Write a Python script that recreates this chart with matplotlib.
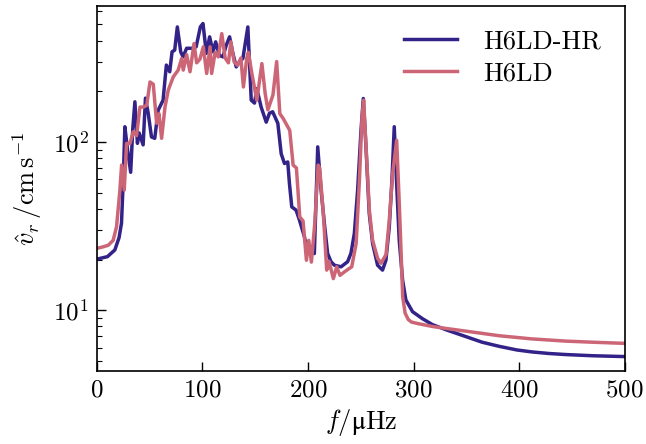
import matplotlib
matplotlib.use("Agg")
import matplotlib.pyplot as plt
import numpy as np

plt.rcParams['font.family'] = ['cmr10', 'DejaVu Serif']
plt.rcParams['mathtext.fontset'] = 'cm'
plt.rcParams['axes.formatter.use_mathtext'] = True
plt.rcParams['axes.unicode_minus'] = False

# H6LD-HR (blue)
f_hr = [0, 10, 17, 21, 23.3, 25, 26.5, 29, 32, 34, 36, 38.4, 40, 43.8, 46, 48.6,
        51.7, 54.8, 58, 62.7, 65.8, 69, 71.2, 73.7, 76.2, 79.4, 81.6, 85, 91, 94,
        98, 100.5, 103.7, 106.8, 110, 112.5, 116, 119.4, 122.6, 125.7, 128.8,
        132, 135, 138.3, 143, 146.2, 149.3, 151.5, 155.6, 160.4, 163.5, 166.5,
        171.4, 174.6, 177.7, 180.8, 182.4, 184.6, 188.7, 191.9, 196.6, 199.7,
        202.9, 206, 209.2, 212.4, 215.5, 218.6, 221.8, 225, 231.3, 237.5, 240.7,
        243.9, 247, 250.2, 252.4, 254.9, 258, 261.2, 265.9, 270.6, 273.8, 277,
        279.5, 281.7, 283.8, 286.4, 289.6, 292.7, 299, 308.4, 318, 332, 350,
        365, 381, 398, 412, 428, 444, 470, 500]
v_hr = [20.1, 20.8, 22.8, 27, 32.9, 60, 123, 90, 66, 120, 173, 98, 113, 96, 182, 148,
        107, 105, 154, 177, 286, 261, 343, 351, 482, 343, 320, 360, 360, 367,
        482, 505, 336, 421, 343, 393, 327, 320, 376, 421, 336,
        279, 299, 313, 482, 177, 170, 207, 161, 131, 148, 151,
        129, 85, 74.4, 76, 56.6, 41.1, 39.3, 34.3, 27.3, 21.7,
        23.8, 21.7, 93.4, 51.6, 32.7, 21.7, 19.4, 18.5, 18.1, 19.4, 21.8,
        28.6, 51.6, 117, 181, 93.4, 37.6, 24.9, 18.5, 17.3, 19.8, 31.3,
        59.2, 123, 59.2, 26.1, 15.1, 11.5, 9.8, 8.9, 8.2, 7.6, 6.95,
        6.45, 6.1, 5.8, 5.65, 5.53, 5.45, 5.36, 5.3]

# H6LD (pink)
f_ld = [0, 6, 10.7, 15.4, 18.6, 21.8, 23.4, 25.9, 28.1, 31.3, 34.5, 37.6, 40.8, 44,
        47.2, 50.3, 53.4, 56.6, 58.8, 61.3, 64.5, 67.6, 72.3, 77, 80.3, 81.8, 85,
        88.2, 92, 94.5, 97.6, 100.8, 104, 107.2, 108.7, 112, 115, 118.3, 121.5,
        124.6, 126.9, 130, 133.2, 136.4, 138.8, 142, 143.5, 146.8, 151.5, 156.3,
        159.4, 162, 166.8, 170.3, 173.3, 176.4, 182.7, 185.9, 189, 192.2, 195.3,
        198.5, 200.7, 203.2, 206.4, 209.6, 211, 214.5, 217.7, 219.9, 224, 227.2,
        230.3, 235.1, 241.4, 245.6, 248.7, 251.2, 252.7, 255, 258.1, 261.2, 266,
        269.2, 273.9, 277, 280.2, 284, 286.6, 289.7, 292, 295, 298, 305, 318, 330,
        350, 381, 412, 444, 470, 500]
v_ld = [23.3, 23.8, 24.3, 26, 31.3, 51.7, 72.8, 51.7, 97.8, 98, 115, 109, 161, 161,
        165, 227, 220, 129, 147, 105, 161, 203, 243, 267, 313, 267, 330,
        261, 384, 295, 310, 367, 255, 367, 255, 340, 320, 440, 315,
        295, 393, 299, 285, 315, 212, 315, 340, 255, 177, 292,
        194, 155, 190, 300, 147, 138, 117, 72.8, 70, 35.8, 33.9,
        19.8, 26, 19.3, 32.7, 72.8, 70, 37.6, 17.3, 19.5, 15.4, 18.1,
        16.1, 17.0, 18.1, 24.9, 59.2, 141, 177, 93, 39.3, 26, 20.3,
        19, 21.4, 34.3, 64.9, 102, 41, 12, 9.6, 8.8, 8.5, 8.3, 8.0, 7.8,
        7.5, 7.05, 6.75, 6.55, 6.45, 6.35]

fig = plt.figure(figsize=(6.46, 4.44), dpi=100)
ax = fig.add_axes([0.150, 0.164, 0.817, 0.822])

ax.semilogy(f_hr, v_hr, color='#332288', lw=2.5, label='H6LD-HR')
ax.semilogy(f_ld, v_ld, color='#CC6677', lw=2.5, label='H6LD')

ax.set_xlim(0, 500)
ax.set_ylim(4.34, 640)
ax.set_xticks([0, 100, 200, 300, 400, 500])
ax.tick_params(axis='both', which='both', direction='in', labelsize=18)
ax.tick_params(which='major', length=6.5, width=1, pad=6)
ax.tick_params(which='minor', length=3.5, width=0.8)
for s in ax.spines.values():
    s.set_linewidth(1.2)

ax.set_xlabel('$f/\\mathrm{\u03bc Hz}$', fontsize=19, labelpad=4)
ax.set_ylabel(r'$\hat{v}_r\,/\mathrm{cm\,s^{-1}}$', fontsize=19, labelpad=6)

ax.legend(loc='upper right', frameon=False, fontsize=19, handlelength=2.0,
          handletextpad=1.0, labelspacing=0.3)

fig.savefig('out.png', dpi=100)
